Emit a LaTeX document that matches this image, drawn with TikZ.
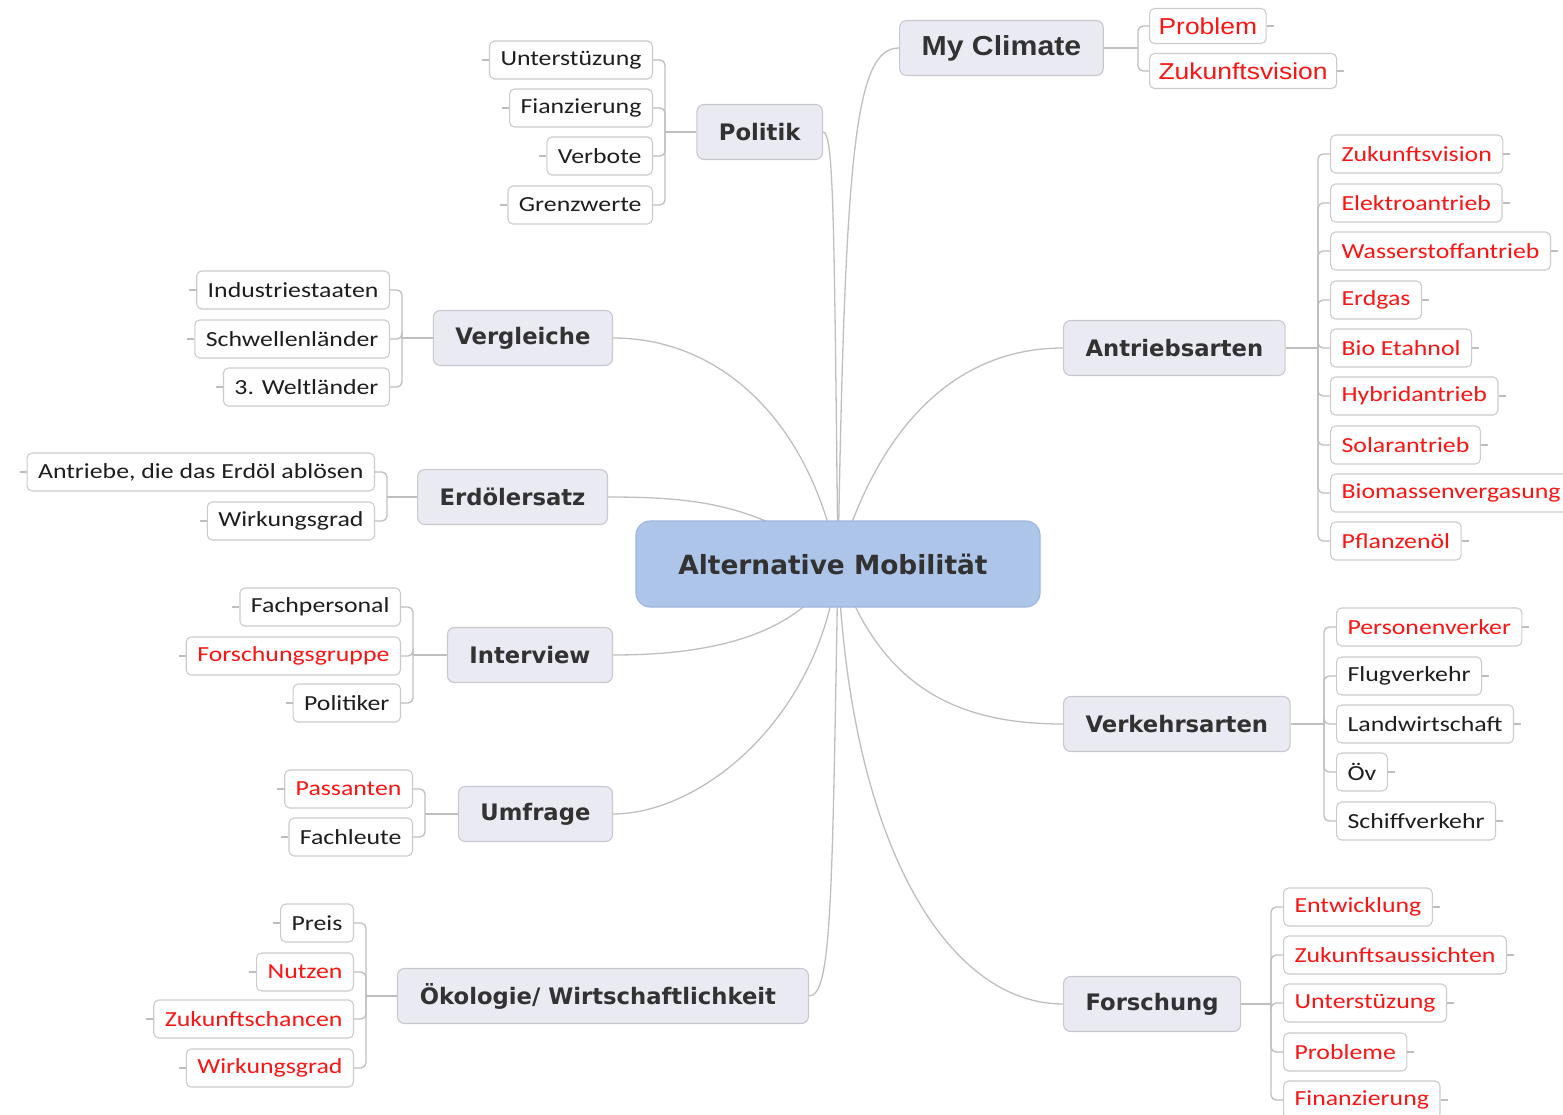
\documentclass[tikz,border=0pt]{standalone}
\usepackage{fontspec}
\setmainfont{Carlito}[FakeStretch=1.2]
\newfontfamily\topicfamily{DejaVu Sans}
\newfontfamily\arialfamily{Liberation Sans}[FakeStretch=1.15]
\newfontfamily\arialboldfamily{Liberation Sans}[FakeStretch=1.1]
\usetikzlibrary{backgrounds}
\definecolor{linkgray}{RGB}{190,190,190}
\definecolor{leafborder}{RGB}{203,203,203}
\definecolor{leaftext}{RGB}{30,30,30}
\definecolor{leafred}{RGB}{250,20,20}
\definecolor{topicfill}{RGB}{234,235,242}
\definecolor{topicborder}{RGB}{200,200,206}
\definecolor{topictext}{RGB}{50,50,50}
\definecolor{centralfill}{RGB}{173,197,232}
\definecolor{centralborder}{RGB}{158,182,220}
\tikzset{
  x=1pt, y=-1pt,
  leaf/.style={draw=leafborder, fill=white, rounded corners=5pt, minimum height=38pt,
    inner xsep=11pt, inner ysep=0pt, text=leaftext, line width=1.1pt,
    font=\fontsize{21.5}{24}\selectfont},
  L/.style={leaf, anchor=east},
  R/.style={leaf, anchor=west},
  hot/.style={text=leafred},
  topic/.style={draw=topicborder, fill=topicfill, rounded corners=7pt, minimum height=55pt,
    inner xsep=22pt, inner ysep=0pt, text=topictext, line width=1.1pt,
    font=\topicfamily\bfseries\fontsize{22.7}{26}\selectfont},
  central/.style={draw=centralborder, fill=centralfill, rounded corners=14pt,
    minimum width=404pt, minimum height=86pt, text=topictext, line width=1.1pt,
    font=\topicfamily\bfseries\fontsize{26.4}{30}\selectfont},
  link/.style={draw=linkgray, line width=1.3pt},
  blink/.style={draw=linkgray, line width=1.3pt, rounded corners=5pt},
}
\begin{document}
\begin{tikzpicture}
\useasboundingbox (0,0) rectangle (1563,1115);
% central
\node[central] (c) at (838,564) {Alternative Mobilität\hspace*{10pt}};
% main topics
\node[topic, anchor=west, font=\arialboldfamily\bfseries\fontsize{27.5}{31}\selectfont] (mc) at (899,48) {My Climate};
\node[topic, anchor=east] (pol) at (823,132) {Politik};
\node[topic, anchor=east] (ver) at (613,338) {Vergleiche};
\node[topic, anchor=east] (erd) at (608,497) {Erdölersatz};
\node[topic, anchor=east] (int) at (613,655) {Interview};
\node[topic, anchor=east] (umf) at (613,814) {Umfrage};
\node[topic, anchor=east, inner xsep=0pt, minimum width=411pt] (oek) at (809,996) {Ökologie/ Wirtschaftlichkeit\hspace*{10pt}};
\node[topic, anchor=west] (ant) at (1063,348) {Antriebsarten};
\node[topic, anchor=west] (vkh) at (1063,724) {Verkehrsarten};
\node[topic, anchor=west] (fors) at (1063,1004) {Forschung};

% central connectors
\begin{scope}[on background layer]
\draw[link] (c.center) .. controls (845,150) and (855,48) .. (mc.west);
\draw[link] (c.center) .. controls (834,220) and (834,132) .. (pol.east);
\draw[link] (c.center) .. controls (810,420) and (720,338) .. (ver.east);
\draw[link] (c.center) .. controls (760,505) and (700,497) .. (erd.east);
\draw[link] (c.center) .. controls (800,640) and (700,655) .. (int.east);
\draw[link] (c.center) .. controls (820,720) and (700,814) .. (umf.east);
\draw[link] (c.center) .. controls (832,900) and (832,996) .. (oek.east);
\draw[link] (c.center) .. controls (880,420) and (960,348) .. (ant.west);
\draw[link] (c.center) .. controls (880,690) and (960,724) .. (vkh.west);
\draw[link] (c.center) .. controls (850,850) and (950,1004) .. (fors.west);
\end{scope}

% bracket junctions
\coordinate (mcb) at (1138,48);
\coordinate (polb) at (665,132);
\coordinate (verb) at (402,338);
\coordinate (erdb) at (387,497);
\coordinate (intb) at (413,655);
\coordinate (umfb) at (425,814);
\coordinate (oekb) at (366,996);
\coordinate (antb) at (1318,348);
\coordinate (vkhb) at (1324,724);
\coordinate (forsb) at (1271,1004);

% My Climate leaves
\node[R, hot, font=\arialfamily\fontsize{23}{26}\selectfont, minimum height=35pt, inner xsep=9pt] (m1) at (1149,26) {Problem};
\node[R, hot, font=\arialfamily\fontsize{23}{26}\selectfont, minimum height=35pt, inner xsep=9pt] (m2) at (1149,71) {Zukunftsvision};
% Politik leaves
\node[L] (p1) at (653,60) {Unterstüzung};
\node[L] (p2) at (653,108) {Fianzierung};
\node[L] (p3) at (653,156) {Verbote};
\node[L] (p4) at (653,205) {Grenzwerte};
% Vergleiche leaves
\node[L] (v1) at (390,290) {Industriestaaten};
\node[L] (v2) at (390,339) {Schwellenländer};
\node[L] (v3) at (390,387) {3. Weltländer};
% Erdoelersatz leaves
\node[L] (e1) at (375,472) {Antriebe, die das Erdöl ablösen};
\node[L] (e2) at (375,521) {Wirkungsgrad};
% Interview leaves
\node[L] (i1) at (401,607) {Fachpersonal};
\node[L, hot] (i2) at (401,656) {Forschungsgruppe};
\node[L] (i3) at (401,703) {Politiker};
% Umfrage leaves
\node[L, hot] (u1) at (413,789) {Passanten};
\node[L] (u2) at (413,837) {Fachleute};
% Oekologie leaves
\node[L] (o1) at (354,923) {Preis};
\node[L, hot] (o2) at (354,972) {Nutzen};
\node[L, hot] (o3) at (354,1019) {Zukunftschancen};
\node[L, hot] (o4) at (354,1068) {Wirkungsgrad};
% Antriebsarten leaves
\node[R, hot] (a1) at (1330,154) {Zukunftsvision};
\node[R, hot] (a2) at (1330,203) {Elektroantrieb};
\node[R, hot] (a3) at (1330,251) {Wasserstoffantrieb};
\node[R, hot] (a4) at (1330,300) {Erdgas};
\node[R, hot] (a5) at (1330,348) {Bio Etahnol};
\node[R, hot] (a6) at (1330,396) {Hybridantrieb};
\node[R, hot] (a7) at (1330,445) {Solarantrieb};
\node[R, hot] (a8) at (1330,493) {Biomassenvergasung};
\node[R, hot] (a9) at (1330,541) {Pflanzenöl};
% Verkehrsarten leaves
\node[R, hot] (k1) at (1336,627) {Personenverker};
\node[R] (k2) at (1336,676) {Flugverkehr};
\node[R] (k3) at (1336,724) {Landwirtschaft};
\node[R] (k4) at (1336,772) {Öv};
\node[R] (k5) at (1336,821) {Schiffverkehr};
% Forschung leaves
\node[R, hot] (f1) at (1283,907) {Entwicklung};
\node[R, hot] (f2) at (1283,955) {Zukunftsaussichten};
\node[R, hot] (f3) at (1283,1003) {Unterstüzung};
\node[R, hot] (f4) at (1283,1052) {Probleme};
\node[R, hot] (f5) at (1283,1100) {Finanzierung};

% topic-to-bracket stems
\draw[link] (mc.east) -- (mcb);
\draw[link] (pol.west) -- (polb);
\draw[link] (ver.west) -- (verb);
\draw[link] (erd.west) -- (erdb);
\draw[link] (int.west) -- (intb);
\draw[link] (umf.west) -- (umfb);
\draw[link] (oek.west) -- (oekb);
\draw[link] (ant.east) -- (antb);
\draw[link] (vkh.east) -- (vkhb);
\draw[link] (fors.east) -- (forsb);

% brackets and stubs, left side
\foreach \b/\list in {polb/{p1,p2,p3,p4}, verb/{v1,v2,v3}, erdb/{e1,e2}, intb/{i1,i2,i3}, umfb/{u1,u2}, oekb/{o1,o2,o3,o4}}{
  \foreach \n in \list {
    \draw[blink] (\b) |- (\n.east);
    \draw[link] (\n.west) -- ++(-7,0);
  }
}
% brackets and stubs, right side
\foreach \b/\list in {mcb/{m1,m2}, antb/{a1,a2,a3,a4,a5,a6,a7,a8,a9}, vkhb/{k1,k2,k3,k4,k5}, forsb/{f1,f2,f3,f4,f5}}{
  \foreach \n in \list {
    \draw[blink] (\b) |- (\n.west);
    \draw[link] (\n.east) -- ++(7,0);
  }
}
\end{tikzpicture}
\end{document}
